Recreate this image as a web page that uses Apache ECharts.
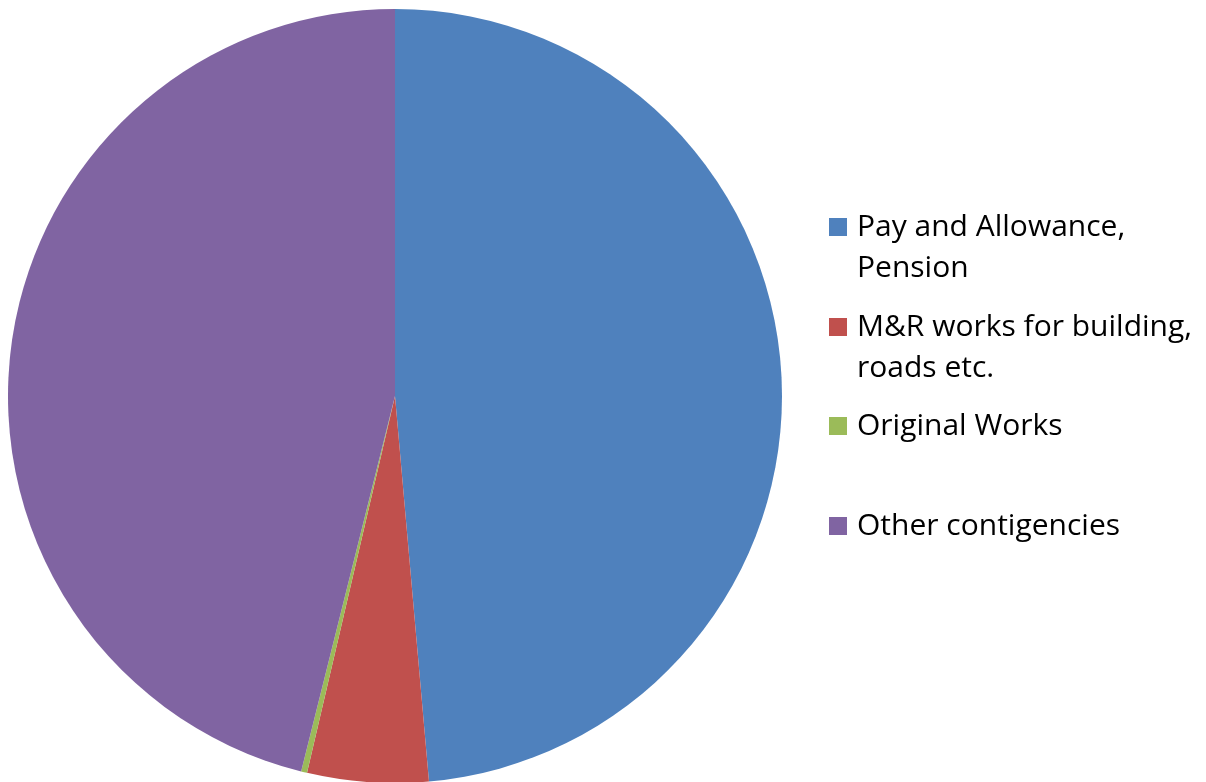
<!DOCTYPE html>
<html>
<head>
<meta charset="utf-8">
<script src="https://cdn.jsdelivr.net/npm/echarts@6/dist/echarts.min.js"></script>
<style>html,body{margin:0;padding:0;background:#fff;}#c{width:1206px;height:782px;}</style>
</head>
<body>
<div id="c"></div>
<script>
const categories = ['Pay and Allowance,\nPension', 'M&R works for building,\nroads etc.', 'Original Works', 'Other contigencies'];
const values = [48.6, 5.05, 0.25, 46.1];
const colors = ['#4F81BD', '#C0504D', '#9BBB59', '#8064A2'];

const chart = echarts.init(document.getElementById('c'));
const LH = 41;
const legendTops = [165.5, 265.5, 405.5, 505.5];
const legends = categories.map((name, i) => {
  const lines = name.split('\n').length;
  return {
    left: 829, top: legendTops[i], padding: 0, orient: 'vertical',
    selectedMode: false, itemWidth: 18, itemHeight: 18, itemGap: 0,
    icon: 'rect',
    data: [name],
    formatter: (n) => lines > 1 ? '\n'.repeat(lines - 1) + n : n,
    textStyle: {
      fontFamily: 'Open Sans', fontSize: 30, color: '#000', lineHeight: LH,
      padding: [0, 0, 0, 5]
    }
  };
});
chart.setOption({
  animation: false,
  color: colors,
  legend: legends,
  series: [{
    type: 'pie',
    center: [395, 396],
    radius: 387,
    startAngle: 90,
    clockwise: true,
    label: { show: false },
    labelLine: { show: false },
    emphasis: { disabled: true },
    itemStyle: { borderWidth: 0 },
    data: categories.map((n, i) => ({ name: n, value: values[i] }))
  }]
});
</script>
</body>
</html>
